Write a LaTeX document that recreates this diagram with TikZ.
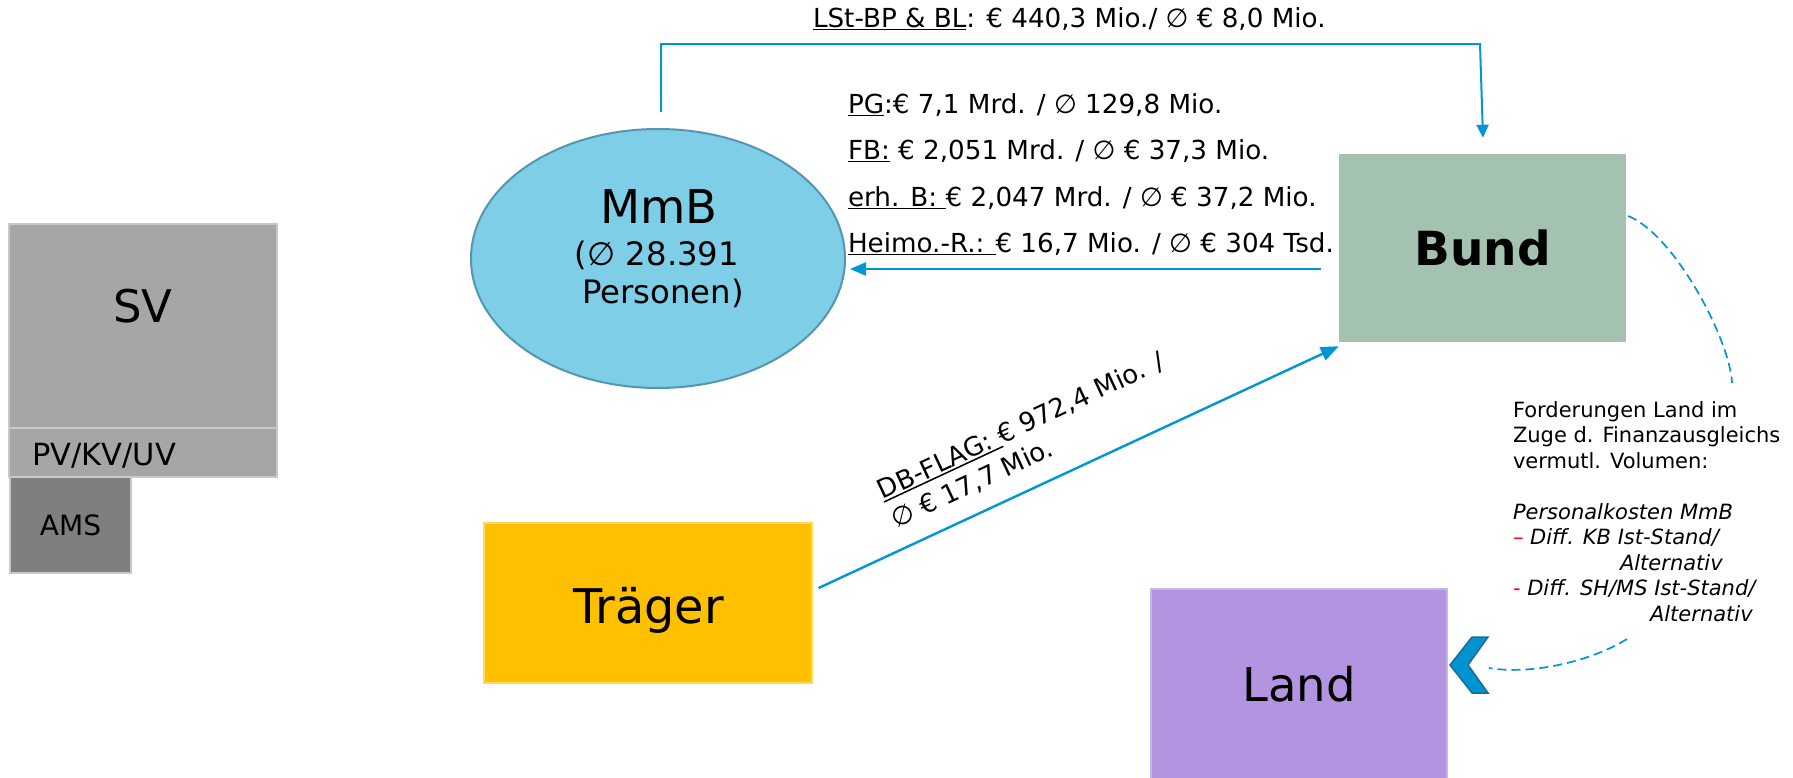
\documentclass[tikz,border=0pt]{standalone}
\usepackage{fontspec}
\setmainfont{DejaVu Sans}[
  UprightFont={DejaVu Sans},
  BoldFont={DejaVu Sans Bold},
  ItalicFont={DejaVu Sans Oblique},
  BoldItalicFont={DejaVu Sans Bold Oblique}]
\usetikzlibrary{shapes.geometric,arrows.meta,calc}
\definecolor{flowblue}{RGB}{0,150,214}
\definecolor{svgray}{RGB}{166,166,166}
\definecolor{amsgray}{RGB}{127,127,127}
\definecolor{grayedge}{RGB}{200,200,200}
\definecolor{mmbfill}{RGB}{127,206,232}
\definecolor{mmbedge}{RGB}{84,150,176}
\definecolor{bundfill}{RGB}{163,194,176}
\definecolor{traegerfill}{RGB}{255,192,0}
\definecolor{traegeredge}{RGB}{255,217,102}
\definecolor{landfill}{RGB}{179,148,224}
\definecolor{landedge}{RGB}{200,180,236}
\definecolor{chevfill}{RGB}{0,147,207}
\definecolor{chevedge}{RGB}{30,105,150}
\newcommand\fsz[2]{\fontsize{#1}{#2}\selectfont}
\newsavebox\ulbox
\newcommand\ulx[1]{\sbox\ulbox{#1}\rlap{\rule[-3pt]{\wd\ulbox}{1.5pt}}\usebox\ulbox}
\tikzset{
  txt/.style={inner sep=0pt, outer sep=0pt},
  graybox/.style={rectangle, draw=grayedge, line width=2pt, inner sep=0pt},
  colbox/.style={rectangle, inner sep=0pt},
  flow/.style={draw=flowblue, line width=2.4pt},
  flowthin/.style={draw=flowblue, line width=2pt},
  dashflow/.style={draw=flowblue, line width=1.7pt, dash pattern=on 9pt off 5pt},
  lbl/.style={txt, font=\fsz{26.2}{30}, anchor=base west}
}
\begin{document}
\begin{tikzpicture}[x=1pt,y=-1pt]
\useasboundingbox (0,0) rectangle (1793,777);
\fill[white] (0,0) rectangle (1793,777);

% SV group
\node[graybox, fill=svgray, minimum width=268, minimum height=204] (sv) at (143,326) {};
\node[txt, font=\fsz{45}{54}, anchor=base] (svt) at (143,322) {SV};
\node[graybox, fill=svgray, minimum width=268, minimum height=49] (pv) at (143,452.5) {};
\node[txt, font=\fsz{30.5}{36}, anchor=base west] (pvt) at (32,465) {PV/KV/UV};
\node[graybox, fill=amsgray, minimum width=121, minimum height=96, font=\fsz{28}{32}] (ams) at (70.5,525) {AMS};

% MmB
\node[ellipse, draw=mmbedge, fill=mmbfill, line width=2pt, minimum width=374, minimum height=259, inner sep=0pt] (mmb) at (658,258.5) {};
\node[txt, font=\fsz{46.5}{54}, anchor=base] (mmbt1) at (659,223) {MmB};
\node[txt, font=\fsz{32.3}{38}, anchor=base] (mmbt2) at (657,265) {(∅ 28.391};
\node[txt, font=\fsz{32.3}{38}, anchor=base] (mmbt3) at (663,303) {Personen)};

% Bund
\node[colbox, fill=bundfill, minimum width=287, minimum height=188, font=\fsz{47}{56}\bfseries] (bund) at (1482.5,248) {Bund};

% Traeger
\node[colbox, fill=traegerfill, draw=traegeredge, line width=1.2pt, minimum width=328, minimum height=160] (traeger) at (648,603) {};
\node[txt, font=\fsz{47.8}{56}, anchor=base] (traegert) at (648.5,623) {Träger};

% Land
\node[colbox, fill=landfill, draw=landedge, line width=1.2pt, minimum width=296, minimum height=190, font=\fsz{46.5}{54}] (land) at (1299,684) {Land};

% top connector
\coordinate (topstart) at (661,112);
\draw[flowthin, -{Triangle[length=13pt,width=12pt]}] (topstart) -- (661,44) -- (1480,44) -- ($(bund.north)+(0.5,-16)$);
\node[lbl] (toplbl) at (813,27) {\ulx{LSt-BP \& BL}: € 440,3 Mio./ ∅ € 8,0 Mio.};

% Bund -> MmB
\draw[flow, -{Triangle[length=16pt,width=13pt]}] ($(bund.west)+(-18,21)$) -- ($(mmb.east)+(4,10.5)$);
\node[lbl] (l1) at (848,113) {\ulx{PG}:€ 7,1 Mrd. / ∅ 129,8 Mio.};
\node[lbl] (l2) at (848,159) {\ulx{FB:} € 2,051 Mrd. / ∅ € 37,3 Mio.};
\node[lbl] (l3) at (848,206) {\ulx{erh. B: }€ 2,047 Mrd. / ∅ € 37,2 Mio.};
\node[lbl] (l4) at (848,252) {\ulx{Heimo.-R.: }€ 16,7 Mio. / ∅ € 304 Tsd.};

% Traeger -> Bund
\draw[flow, -{Triangle[length=18pt,width=14pt]}] ($(traeger.east)+(6,-15)$) -- ($(bund.south west)+(0,4)$);
\node[txt, font=\fsz{26}{32}, align=left, anchor=north west, rotate=25] (dbl) at (872.4,477.3)
  {\rule{0pt}{25pt}\ulx{DB-FLAG: }€ 972,4 Mio. /\\ ∅ € 17,7 Mio.};

% dashed arcs
\coordinate (dq1) at (1732,383);
\draw[dashflow] ($(bund.east)+(2,-32)$) .. controls (1675,235) and (1730,340) .. (dq1);
\coordinate (dq2) at (1627,639);
\coordinate (dq3) at (1489,668);
\draw[dashflow] (dq2) .. controls (1590,662) and (1530,675) .. (dq3);

% chevron
\draw[fill=chevfill, draw=chevedge, line width=1.5pt, line join=miter]
  (1472,637) -- (1488,637) -- (1468,665) -- (1488,693) -- (1472,693) -- (1450,665) -- cycle;

% Forderungen text
\node[txt, font=\fsz{21}{25.5}, align=left, anchor=north west] (ford) at (1513,397)
  {\rule{0pt}{20pt}Forderungen Land im\\
   Zuge d. Finanzausgleichs\\
   vermutl. Volumen:\\[25.5pt]
   \textit{Personalkosten MmB}\\
   {\color{red}–} \textit{Diff. KB Ist-Stand/}\\
   \hspace*{107pt}\textit{Alternativ}\\
   {\color{red}-} \textit{Diff. SH/MS Ist-Stand/}\\
   \hspace*{137pt}\textit{Alternativ}};
\end{tikzpicture}
\end{document}
